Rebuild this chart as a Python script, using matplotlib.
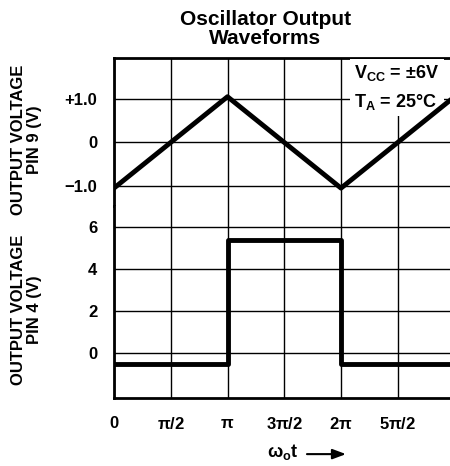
import numpy as np
import matplotlib
matplotlib.use("Agg")
import matplotlib.pyplot as plt

# data (x in radians of w0*t)
tri_x = np.array([0, 1, 2, 3]) * np.pi
tri_y = [-1.05, 1.05, -1.05, 1.05]          # pin 9, volts
sq_x = np.array([0, 1, 1, 2, 2, 3]) * np.pi
sq_y = [-0.5, -0.5, 5.4, 5.4, -0.5, -0.5]   # pin 4, volts

xticks = np.arange(0, 6) * np.pi / 2
xlabels = ['0', r'$\pi$/2', r'$\pi$', r'3$\pi$/2', r'2$\pi$', r'5$\pi$/2']
top_ticks = [1.0, 0, -1.0]
top_labels = ['+1.0', '0', '\u22121.0']
bot_ticks = [6, 4, 2, 0]
bot_labels = ['6', '4', '2', '0']

plt.rcParams['font.family'] = ['Liberation Sans', 'DejaVu Sans']
plt.rcParams['font.weight'] = 'bold'
plt.rcParams['mathtext.fontset'] = 'custom'
plt.rcParams['mathtext.rm'] = 'Liberation Sans:bold'
plt.rcParams['mathtext.it'] = 'Liberation Sans:bold'

fig = plt.figure(figsize=(4.5, 4.66), dpi=100)
ax1 = fig.add_axes([0.2533, 0.558, 0.7467, 0.3176])
ax2 = fig.add_axes([0.2533, 0.1459, 0.7467, 0.4121])

xmax = 2.96 * np.pi
for ax in (ax1, ax2):
    ax.set_xlim(0, xmax)
    ax.set_xticks(xticks)
    ax.grid(True, color='black', linewidth=1.0)
    ax.tick_params(length=0, labelsize=12, pad=12)
    ax.spines['right'].set_visible(False)
    for s in ax.spines.values():
        s.set_linewidth(2.0)

ax1.set_ylim(-1.46, 1.94)
ax1.set_yticks(top_ticks)
ax1.set_yticklabels(top_labels)
ax1.set_xticklabels([])
ax1.spines['bottom'].set_visible(False)
ax1.plot(tri_x, tri_y, color='black', linewidth=3.5, zorder=4)

ax2.set_ylim(-2.14, 7.0)
ax2.set_yticks(bot_ticks)
ax2.set_yticklabels(bot_labels)
ax2.set_xticklabels(xlabels)
ax2.tick_params(axis='x', pad=13)
ax2.spines['top'].set_visible(False)
ax2.plot(sq_x, sq_y, color='black', linewidth=3.5, zorder=4)

ax1.text(0.715, 0.965, 'V$_\\mathregular{CC}$ = \u00b16V\nT$_\\mathregular{A}$ = 25\u00b0C',
         transform=ax1.transAxes, fontsize=13, va='top', linespacing=1.6,
         bbox=dict(facecolor='white', edgecolor='none', pad=3), zorder=3)

fig.text(0.059, 0.70, 'OUTPUT VOLTAGE\nPIN 9 (V)', rotation=90, fontsize=12,
         ha='center', va='center', linespacing=1.1)
fig.text(0.059, 0.335, 'OUTPUT VOLTAGE\nPIN 4 (V)', rotation=90, fontsize=12,
         ha='center', va='center', linespacing=1.1)

fig.text(0.59, 0.937, 'Oscillator Output\nWaveforms', ha='center', va='center',
         fontsize=15, weight='bold', linespacing=1.0)

fig.text(0.627, 0.008, r'$\omega_\mathregular{o}$t', fontsize=13, ha='center', va='bottom')
fig.add_artist(matplotlib.patches.FancyArrowPatch(
    (0.676, 0.0255), (0.775, 0.0255), transform=fig.transFigure,
    arrowstyle='-|>,head_length=8,head_width=3', color='black', linewidth=1.5))

fig.savefig('out.png', dpi=100)
